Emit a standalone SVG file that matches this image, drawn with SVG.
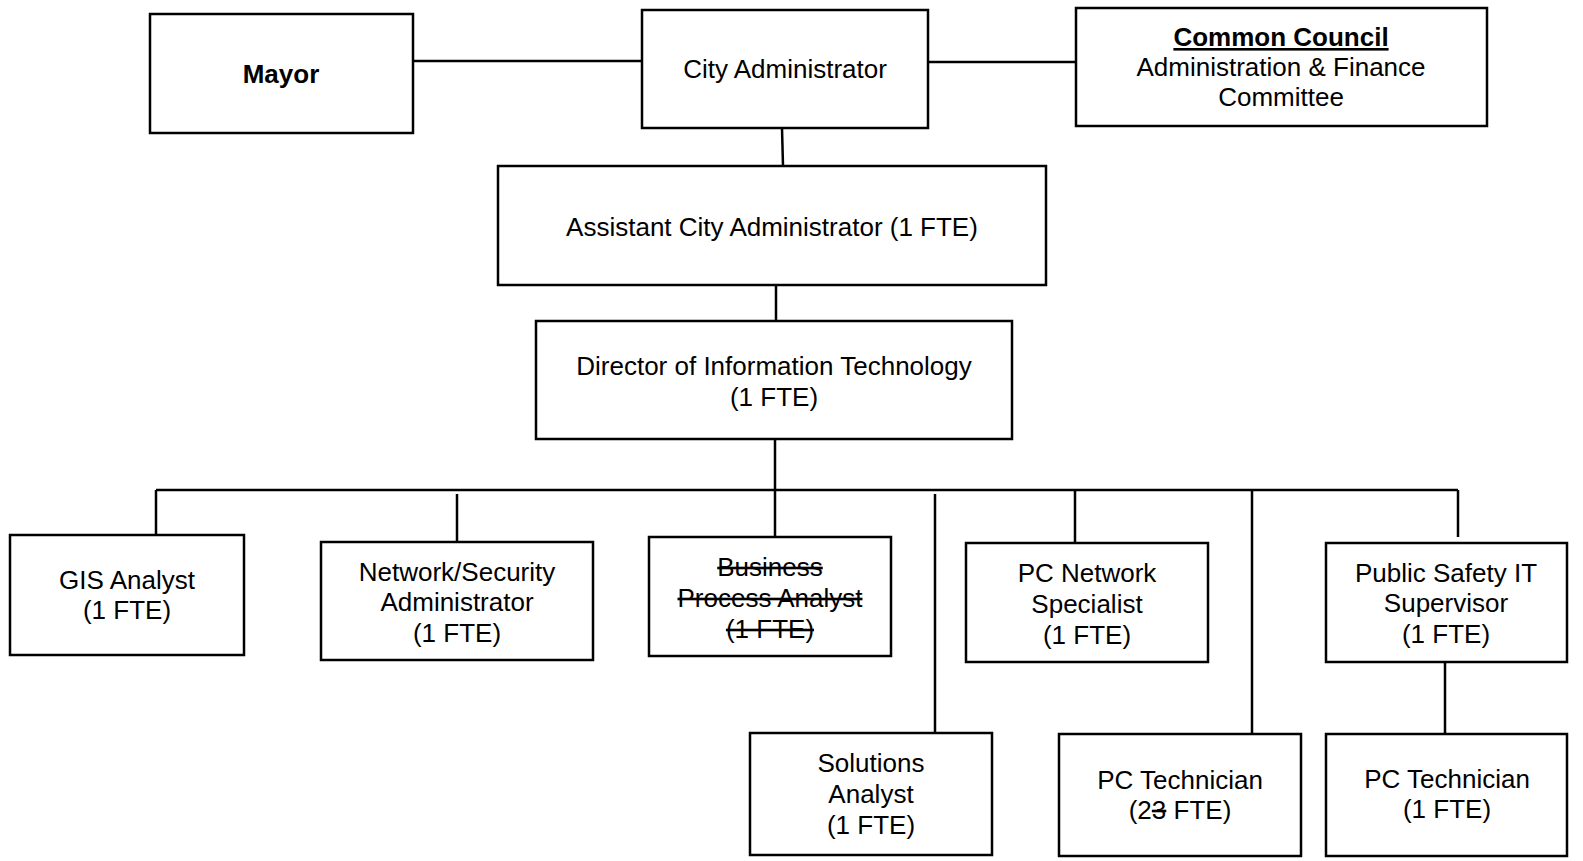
<svg xmlns="http://www.w3.org/2000/svg" width="1583" height="861" viewBox="0 0 1583 861">
<style>
.box{fill:#fff;stroke:#000;stroke-width:2.5}
.ln{stroke:#000;stroke-width:2.5;fill:none}
text{font-family:"Liberation Sans",Arial,sans-serif;font-size:26px;fill:#000;text-anchor:middle}
.b{font-weight:bold}
.s{text-decoration:line-through}
</style>
<rect width="1583" height="861" fill="#fff"/>
<g id="connectors">
<line class="ln" x1="413" y1="61" x2="642" y2="61"/>
<line class="ln" x1="928" y1="62" x2="1076" y2="62"/>
<line class="ln" x1="782" y1="128" x2="783" y2="166"/>
<line class="ln" x1="776" y1="285" x2="776" y2="321"/>
<line class="ln" x1="775" y1="439" x2="775" y2="490"/>
<line class="ln" x1="156" y1="490" x2="1458" y2="490"/>
<line class="ln" x1="156" y1="490" x2="156" y2="535"/>
<line class="ln" x1="457" y1="494" x2="457" y2="542"/>
<line class="ln" x1="775" y1="490" x2="775" y2="537"/>
<line class="ln" x1="935" y1="494" x2="935" y2="733"/>
<line class="ln" x1="1075" y1="490" x2="1075" y2="543"/>
<line class="ln" x1="1252" y1="490" x2="1252" y2="734"/>
<line class="ln" x1="1458" y1="490" x2="1458" y2="537"/>
<line class="ln" x1="1445" y1="662" x2="1445" y2="734"/>
</g>
<g id="mayor"><rect class="box" x="150" y="14" width="263" height="119"/><text class="b" x="281" y="83">Mayor</text></g>
<g id="city-admin"><rect class="box" x="642" y="10" width="286" height="118"/><text x="785" y="78">City Administrator</text></g>
<g id="council"><rect class="box" x="1076" y="8" width="411" height="118"/>
<text class="b" x="1281" y="46" text-decoration="underline">Common Council</text>
<text x="1281" y="76">Administration &amp; Finance</text>
<text x="1281" y="106">Committee</text></g>
<g id="assistant"><rect class="box" x="498" y="166" width="548" height="119"/><text x="772" y="236">Assistant City Administrator (1 FTE)</text></g>
<g id="director"><rect class="box" x="536" y="321" width="476" height="118"/><text x="774" y="375">Director of Information Technology</text><text x="774" y="406">(1 FTE)</text></g>
<g id="gis"><rect class="box" x="10" y="535" width="234" height="120"/><text x="127" y="589">GIS Analyst</text><text x="127" y="619">(1 FTE)</text></g>
<g id="netsec"><rect class="box" x="321" y="542" width="272" height="118"/><text x="457" y="581">Network/Security</text><text x="457" y="611">Administrator</text><text x="457" y="642">(1 FTE)</text></g>
<g id="bpa"><rect class="box" x="649" y="537" width="242" height="119"/><text class="s" x="770" y="576">Business</text><text class="s" x="770" y="607">Process Analyst</text><text class="s" x="770" y="638">(1 FTE)</text></g>
<g id="solutions"><rect class="box" x="750" y="733" width="242" height="122"/><text x="871" y="772">Solutions</text><text x="871" y="803">Analyst</text><text x="871" y="834">(1 FTE)</text></g>
<g id="pcnet"><rect class="box" x="966" y="543" width="242" height="119"/><text x="1087" y="582">PC Network</text><text x="1087" y="613">Specialist</text><text x="1087" y="644">(1 FTE)</text></g>
<g id="pctech23"><rect class="box" x="1059" y="734" width="242" height="122"/><text x="1180" y="789">PC Technician</text><text x="1180" y="819">(2<tspan class="s">3</tspan> FTE)</text></g>
<g id="pssup"><rect class="box" x="1326" y="543" width="241" height="119"/><text x="1446" y="582">Public Safety IT</text><text x="1446" y="612">Supervisor</text><text x="1446" y="643">(1 FTE)</text></g>
<g id="pctech1"><rect class="box" x="1326" y="734" width="241" height="122"/><text x="1447" y="788">PC Technician</text><text x="1447" y="818">(1 FTE)</text></g>
</svg>
